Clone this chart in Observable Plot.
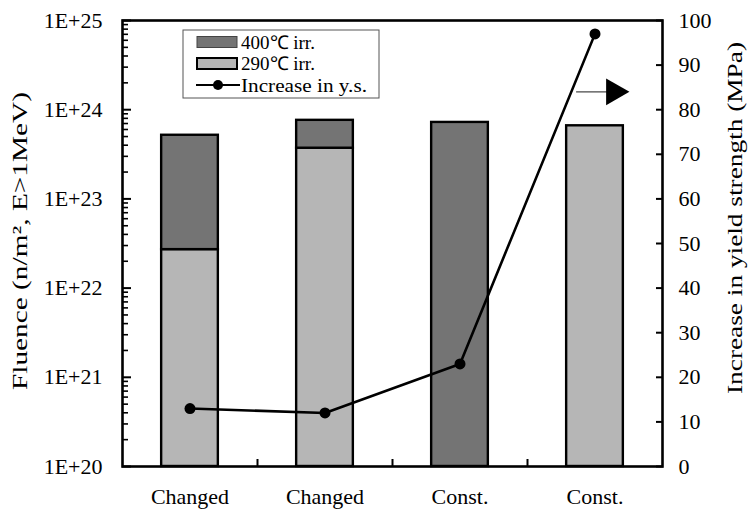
<!DOCTYPE html>
<html><head><meta charset="utf-8">
<script src="https://cdn.jsdelivr.net/npm/d3@7"></script>
<script src="https://cdn.jsdelivr.net/npm/@observablehq/plot@0.6"></script>
<style>
body{margin:0;background:#fff}
</style>
</head><body><div id="chart"></div>
<script>
// ---- data ----
const categories = ["Changed", "Changed", "Const.", "Const."];
const fluence290 = [2.7e22, 3.7e23, 0, 6.6e23];      // 290℃ irr. (n/m²)
const fluence400 = [4.9e23, 3.9e23, 7.2e23, 0];      // 400℃ irr. (n/m²)
const ysIncrease = [13, 12, 23, 97];                 // MPa
const leftTickExps = [20, 21, 22, 23, 24, 25];
const leftTickLabels = ["1E+20", "1E+21", "1E+22", "1E+23", "1E+24", "1E+25"];
const rightTicks = [0, 10, 20, 30, 40, 50, 60, 70, 80, 90, 100];
const arrowNote = {from: 2.86, to: 3.09, value: 84};  // pointer "→ right axis"
const leftTitle = "Fluence (n/m², E>1MeV)";
const rightTitle = "Increase in yield strength (MPa)";
const legendLabels = ["400℃ irr.", "290℃ irr.", "Increase in y.s."];

const FONT = '"Liberation Serif", "Times New Roman", serif';
const lg10 = Math.log10;
const baseExp = 20;
const toExp = v => 20 + v / 20;   // right axis 0..100 mapped onto exponents 20..25
const minorExps = [];
for (let e = 20; e < 25; e++) for (let m = 2; m <= 9; m++) minorExps.push(e + lg10(m));

const seg = [];
categories.forEach((c, i) => {
  const b = fluence290[i] > 0 ? fluence290[i] : 1e20;
  if (fluence290[i] > 0) seg.push({i, y1: baseExp, y2: lg10(fluence290[i]), k: "290"});
  if (fluence400[i] > 0) seg.push({i, y1: lg10(b), y2: lg10(b + fluence400[i]), k: "400"});
});
const pts = ysIncrease.map((v, i) => ({i, y: toExp(v)}));
const halfW = 0.21;

const chart = Plot.plot({
  width: 749, height: 510,
  marginLeft: 122, marginRight: 87, marginTop: 20, marginBottom: 44,
  style: {fontSize: "22px", fontFamily: FONT, color: "#000", background: "#fff"},
  x: {type: "linear", domain: [-0.5, 3.5]},
  y: {type: "linear", domain: [20, 25]},
  marks: [
    Plot.rect(seg, {x1: d => d.i - halfW, x2: d => d.i + halfW, y1: "y1", y2: "y2",
      fill: d => d.k === "400" ? "#747474" : "#b6b6b6", stroke: "#000", strokeWidth: 2.4}),
    Plot.line(pts, {x: "i", y: "y", stroke: "#000", strokeWidth: 2.6}),
    Plot.dot(pts, {x: "i", y: "y", r: 5.5, fill: "#000"}),
    Plot.link([arrowNote], {x1: "from", x2: "to", y1: d => toExp(d.value), y2: d => toExp(d.value), stroke: "#666", strokeWidth: 1.5}),
    Plot.dot([arrowNote], {x: d => d.to + 0.05, y: d => toExp(d.value), symbol: "triangle", rotate: 90, r: 10, fill: "#000", stroke: "none"}),
    // left axis
    Plot.axisY({anchor: "left", ticks: leftTickExps, tickSize: 0, tickPadding: 20, fontSize: 22,
      tickFormat: d => leftTickLabels[leftTickExps.indexOf(d)], label: null}),
    Plot.axisY({anchor: "left", ticks: leftTickExps, tickSize: -9, text: null, label: null, strokeWidth: 2}),
    Plot.axisY({anchor: "left", ticks: minorExps, tickSize: -6, text: null, label: null, strokeWidth: 1.6}),
    // right axis
    Plot.axisY({anchor: "right", ticks: rightTicks.map(toExp), tickSize: 0, tickPadding: 16, fontSize: 22,
      tickFormat: d => String(Math.round((d - 20) * 20)), label: null}),
    Plot.axisY({anchor: "right", ticks: rightTicks.map(toExp), tickSize: -7, text: null, label: null, strokeWidth: 2}),
    // bottom axis
    Plot.axisX({anchor: "bottom", ticks: [0, 1, 2, 3], tickFormat: i => categories[i], tickSize: 0, tickPadding: 22, fontSize: 22, label: null}),
    Plot.axisX({anchor: "bottom", ticks: [0.5, 1.5, 2.5], tickSize: -7, text: null, label: null, strokeWidth: 2}),
    Plot.frame({stroke: "#000", strokeWidth: 2.6})
  ]
});
document.getElementById("chart").appendChild(chart);

const svg = d3.select(chart);
// ---- axis titles (wide face in the reference: stretch to its length) ----
svg.append("text").attr("transform", "translate(20,241) rotate(-90)")
  .attr("text-anchor", "middle").attr("dy", "0.35em").style("font-size", "21px").style("font-family", FONT)
  .attr("textLength", 298).attr("lengthAdjust", "spacingAndGlyphs").text(leftTitle);
svg.append("text").attr("transform", "translate(735,218) rotate(-90)")
  .attr("text-anchor", "middle").attr("dy", "0.35em").style("font-size", "21px").style("font-family", FONT)
  .attr("textLength", 352).attr("lengthAdjust", "spacingAndGlyphs").text(rightTitle);

// ---- legend (inside plot area, top-left) ----
const lg = svg.append("g").style("font-size", "19px").style("font-family", FONT).attr("text-anchor", "start");
lg.append("rect").attr("x", 183).attr("y", 30).attr("width", 196).attr("height", 68)
  .attr("fill", "#fff").attr("stroke", "#555").attr("stroke-width", 1);
const items = [
  {label: legendLabels[0], type: "bar", fill: "#747474"},
  {label: legendLabels[1], type: "bar", fill: "#b6b6b6"},
  {label: legendLabels[2], type: "line", w: 126}
];
items.forEach((it, k) => {
  const cy = 42 + k * 21.5;
  if (it.type === "bar") {
    lg.append("rect").attr("x", 197).attr("y", cy - 5.5).attr("width", 40).attr("height", 11)
      .attr("fill", it.fill).attr("stroke", k === 1 ? "#000" : "#444").attr("stroke-width", k === 1 ? 2 : 1);
  } else {
    lg.append("line").attr("x1", 196).attr("x2", 240).attr("y1", cy).attr("y2", cy).attr("stroke", "#000").attr("stroke-width", 2);
    lg.append("circle").attr("cx", 218).attr("cy", cy).attr("r", 5).attr("fill", "#000");
  }
  const t = lg.append("text").attr("x", 241).attr("y", cy).attr("dy", "0.35em").attr("text-anchor", "start").text(it.label);
  if (it.w) t.attr("textLength", it.w).attr("lengthAdjust", "spacingAndGlyphs");
});
</script>
</body></html>
